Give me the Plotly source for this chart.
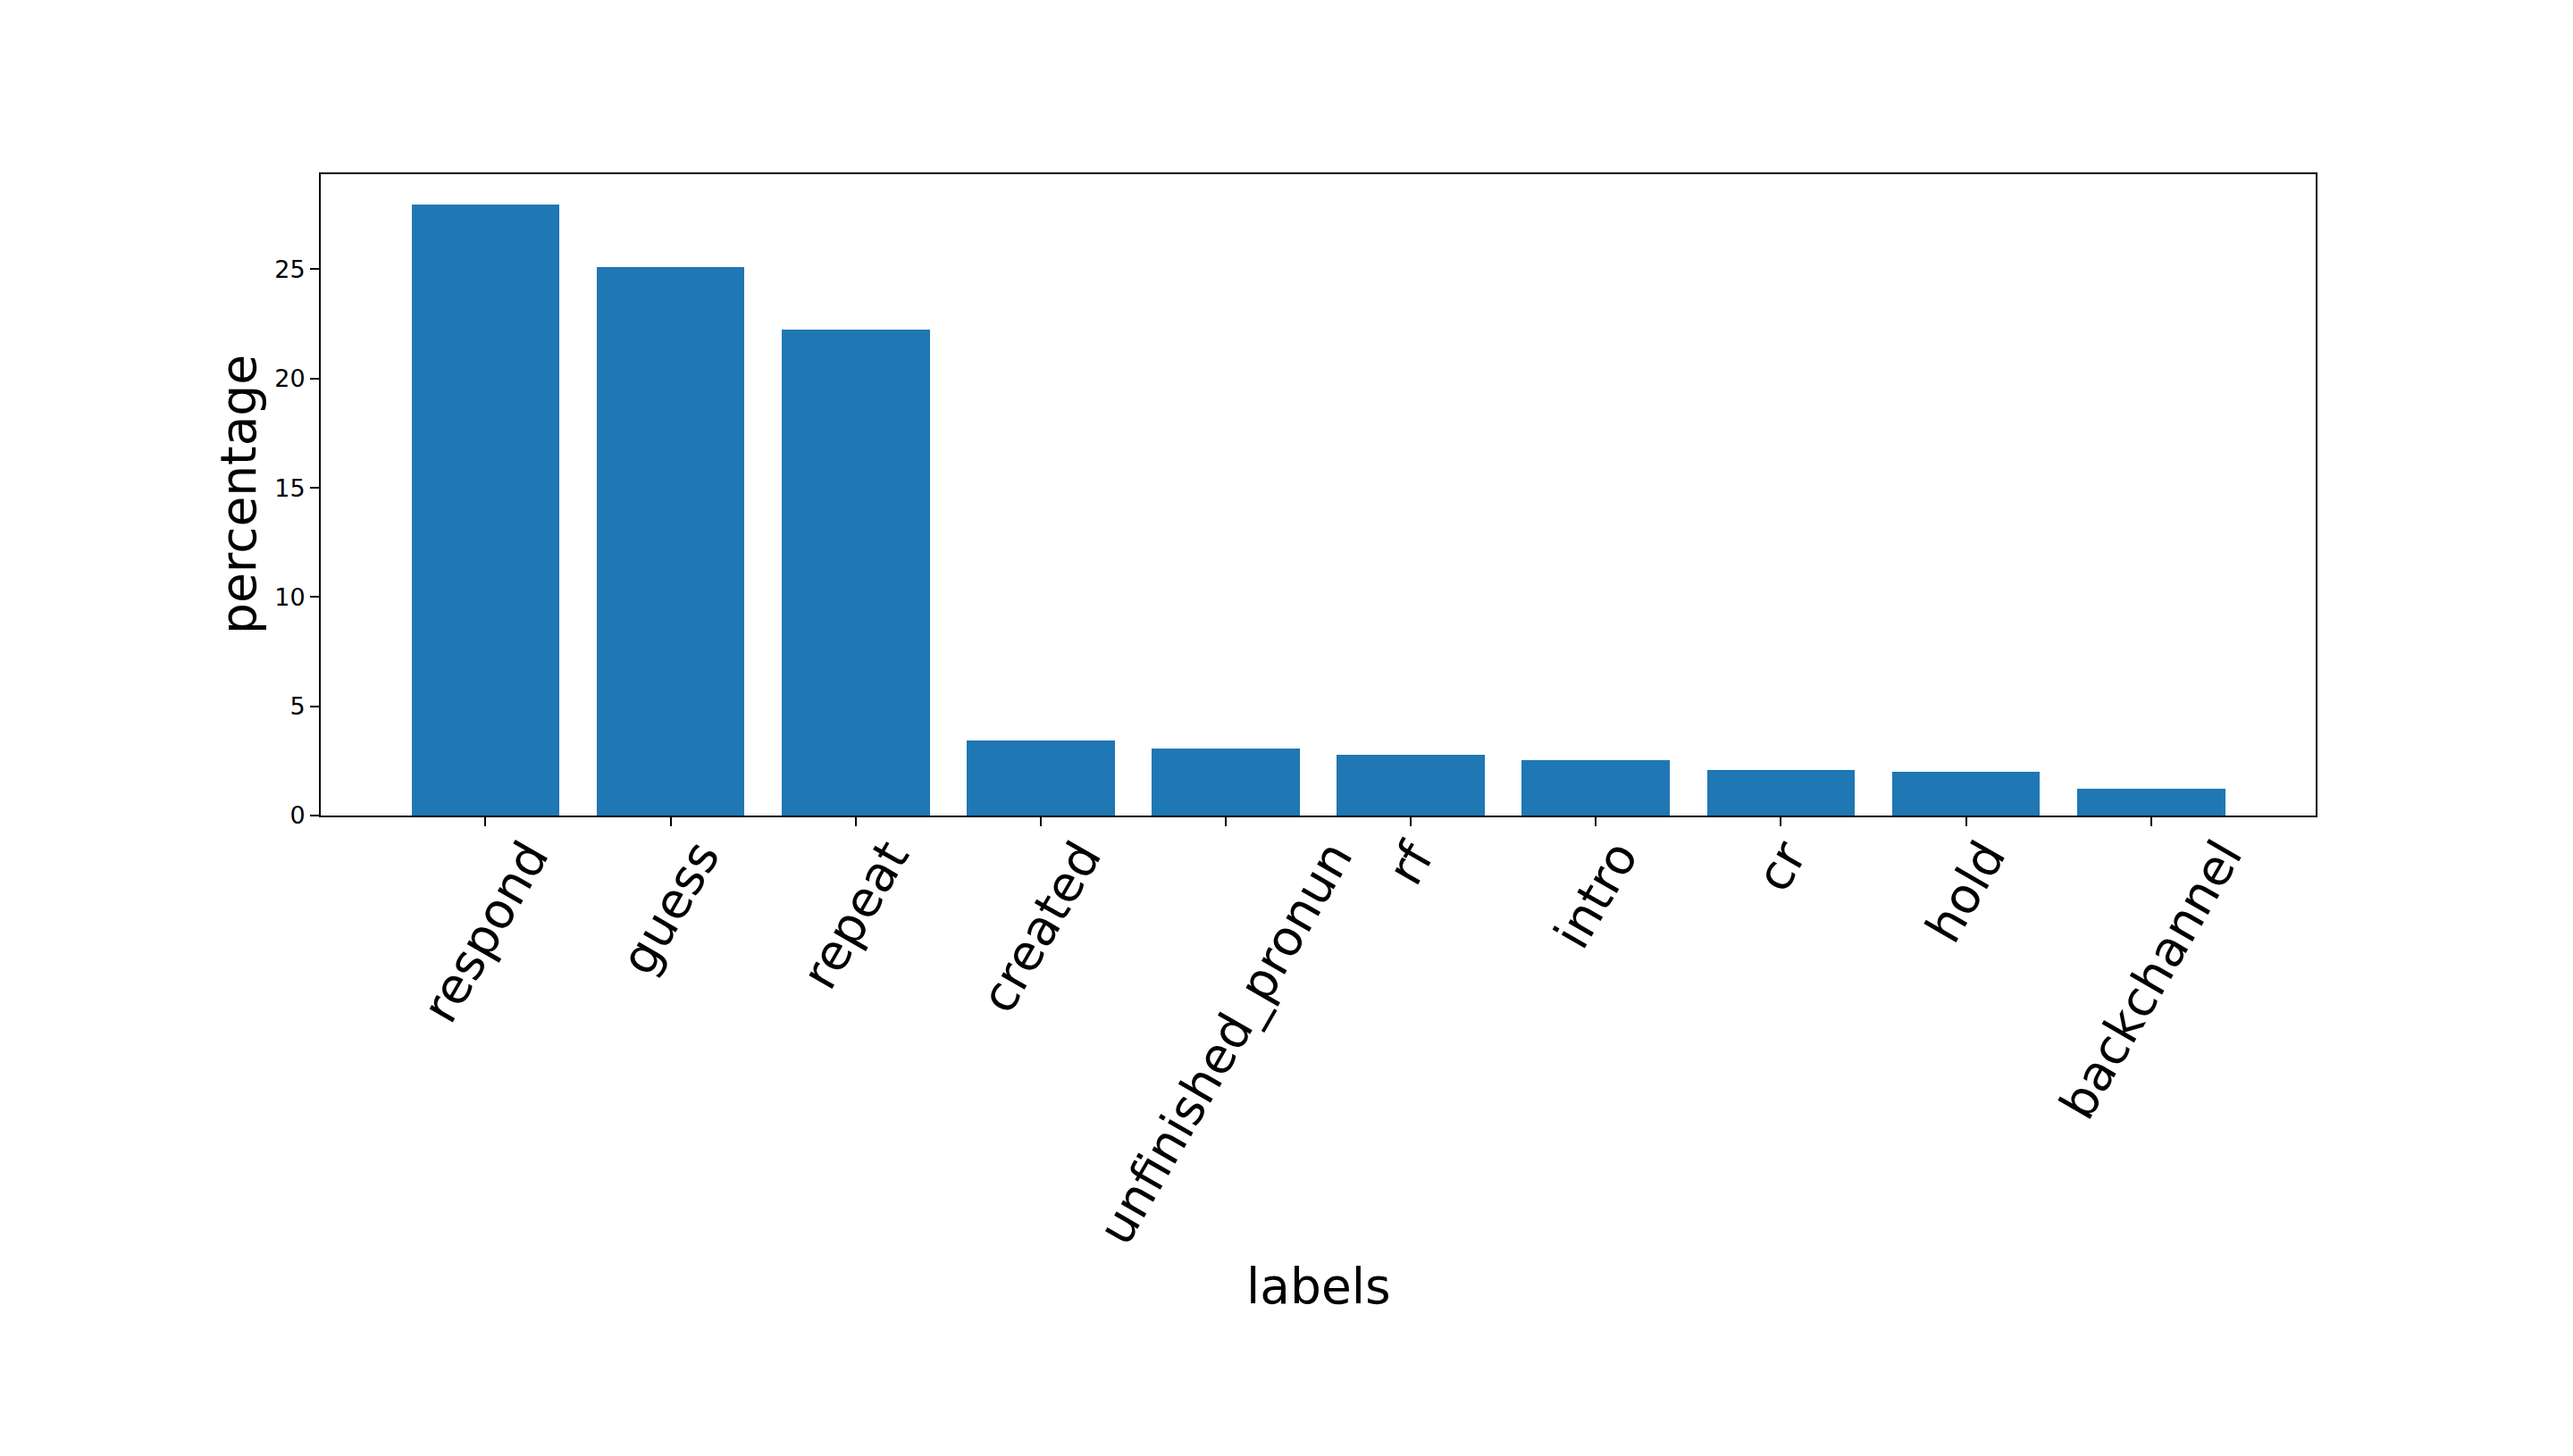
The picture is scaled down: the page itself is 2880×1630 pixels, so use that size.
import plotly.graph_objects as go

categories = ["respond", "guess", "repeat", "created", "unfinished_pronun",
              "rf", "intro", "cr", "hold", "backchannel"]
percentages = [27.95, 25.1, 22.25, 3.45, 3.05, 2.77, 2.52, 2.08, 1.99, 1.24]
y_ticks = [0, 5, 10, 15, 20, 25]

FONT = "DejaVu Sans"

fig = go.Figure(go.Bar(x=categories, y=percentages, width=0.8,
                       marker=dict(color="#1f77b4", line=dict(width=0))))

annotations = []
for c in categories:
    annotations.append(dict(x=c, xref="x", y=0, yref="paper", yshift=-15,
                            text=c, showarrow=False, textangle=-60,
                            xanchor="center", yanchor="top",
                            font=dict(family=FONT, size=55, color="black")))
annotations.append(dict(x=0.5, xref="paper", y=0, yref="paper", yshift=-527,
                        text="labels", showarrow=False, xanchor="center", yanchor="middle",
                        font=dict(family=FONT, size=55, color="black")))
annotations.append(dict(x=0, xref="paper", y=0.5, yref="paper", xshift=-92,
                        text="percentage", showarrow=False, textangle=-90,
                        xanchor="center", yanchor="middle",
                        font=dict(family=FONT, size=55, color="black")))

fig.update_layout(
    width=2880, height=1630,
    margin=dict(l=351, r=296, t=187, b=725, autoexpand=False),
    paper_bgcolor="white", plot_bgcolor="white",
    showlegend=False,
    bargap=0,
    annotations=annotations,
    xaxis=dict(type="category", range=[-0.89, 9.89], showticklabels=False,
               ticks="outside", ticklen=10, tickwidth=2, tickcolor="black",
               showline=True, linecolor="black", linewidth=2, mirror=True,
               showgrid=False, zeroline=False),
    yaxis=dict(range=[0, 29.35], tickvals=y_ticks, ticks="outside", ticklen=10,
               tickwidth=2, tickcolor="black",
               tickfont=dict(family=FONT, size=27, color="black"),
               showline=True, linecolor="black", linewidth=2, mirror=True,
               showgrid=False, zeroline=False),
)

fig.write_html("out.html")
